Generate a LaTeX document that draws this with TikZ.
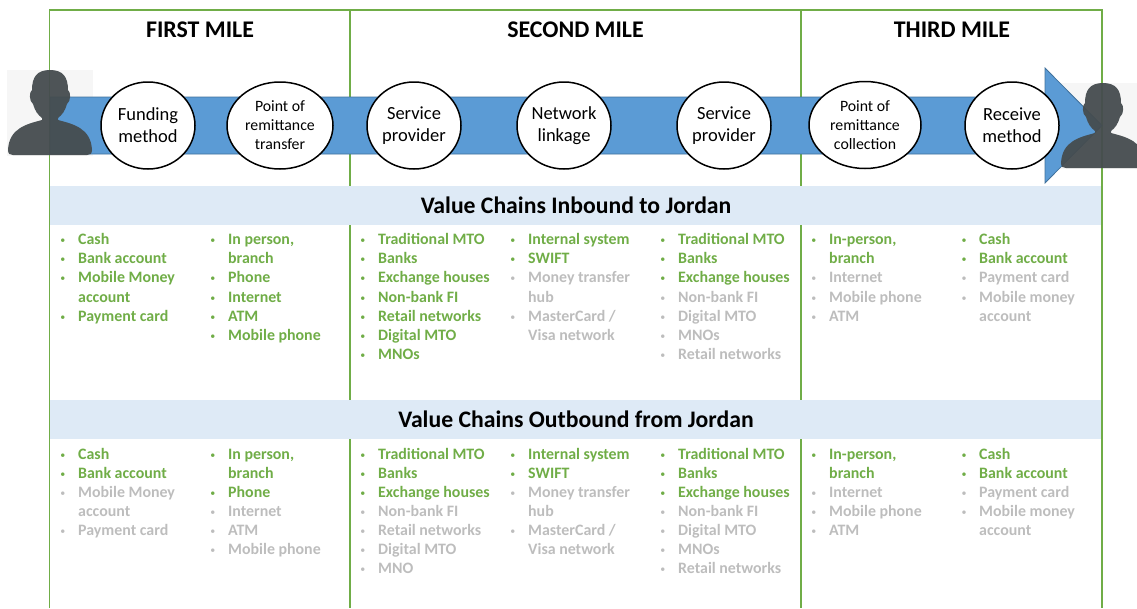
\documentclass[tikz,border=0pt]{standalone}
\usepackage{fontspec}
\usetikzlibrary{shapes.geometric}
\setmainfont{Carlito}
\definecolor{framegreen}{HTML}{70AD47}
\definecolor{itemgrey}{HTML}{BDBDBD}
\definecolor{bandblue}{HTML}{DEEAF6}
\definecolor{arrowblue}{HTML}{5B9BD5}
\definecolor{arrowedge}{HTML}{41719C}
\definecolor{persondark}{HTML}{454C4F}
\definecolor{personback}{HTML}{F6F6F6}
\tikzset{
    milehead/.style={font=\fontsize{23.9}{26}\selectfont\bfseries},
    band/.style={fill=bandblue, minimum width=1052, minimum height=39, inner sep=0, font=\fontsize{23.7}{25}\selectfont\bfseries},
    stage/.style={draw, fill=white, line width=1.5pt, ellipse, inner sep=0, align=center, minimum width=94, minimum height=87, yshift=-0.5, font=\fontsize{18.5}{22}\selectfont},
    stagesmall/.style={stage, minimum width=106, font=\fontsize{15.8}{19}\selectfont},
    itemtext/.style={anchor=west, inner sep=0, yshift=-2, text height=10.5, text depth=3, font=\fontsize{15.9}{18}\selectfont\bfseries},
    go/.style={itemtext, text=framegreen, label={[text=framegreen, label distance=9]left:•}},
    no/.style={itemtext, text=itemgrey, label={[text=itemgrey, label distance=9]left:•}},
    gomore/.style={itemtext, text=framegreen},
    nomore/.style={itemtext, text=itemgrey},
    person/.pic={
        \fill[persondark, opacity=0.95] (43,0) .. controls (30,0) and (25,7) .. (25,20)
            .. controls (22,22) and (22,31) .. (26,34) .. controls (28,41) and (31,45) .. (35,48)
            -- (35,50) .. controls (20,54) and (2,58) .. (1,80) .. controls (1,84) and (3,85) .. (6,85)
            -- (80,85) .. controls (83,85) and (85,84) .. (85,80) .. controls (84,58) and (66,54) .. (51,50)
            -- (51,48) .. controls (55,45) and (58,41) .. (60,34) .. controls (64,31) and (64,22) .. (61,20)
            .. controls (61,7) and (56,0) .. (43,0) -- cycle;
    }
}
\begin{document}
\begin{tikzpicture}[x=1pt, y=-1pt]
    \useasboundingbox (0,0) rectangle (1137,608);
    \begin{scope}
    \clip (0,0) rectangle (1137,608);

    % Backs of the people
    \fill[personback] (7,70) rectangle (93,156);
    \fill[personback] (1060,83) rectangle (1146,169);

    % Mile dividers
    \draw[framegreen, line width=1.2pt] (350,10) -- (350,608);
    \draw[framegreen, line width=1.2pt] (801,10) -- (801,608);

    % Bands
    \node[band] (inbound) at (576,205.5) {Value Chains Inbound to Jordan};
    \node[band] (outbound) at (576,419.5) {Value Chains Outbound from Jordan};

    % Frame
    \draw[framegreen, line width=1.2pt] (49.5,608) -- (49.5,10) -- (1102,10) -- (1102,608);

    % Mile titles
    \node[milehead] (firstmile) at (200,30) {FIRST MILE};
    \node[milehead] (secondmile) at (575.5,30) {SECOND MILE};
    \node[milehead] (thirdmile) at (952,30) {THIRD MILE};

    % Arrow
    \draw[fill=arrowblue, draw=arrowedge, line width=0.8pt] (50,97) -- (1045,97) -- (1045,68) -- (1102,125.5) -- (1045,183) -- (1045,154) -- (50,154) -- cycle;

    % Stages
    \node[stage] (funding) at (148,125) {Funding\\method};
    \node[stagesmall] (transfer) at (280,125) {Point of\\remittance\\transfer};
    \node[stage] (provideri) at (414,125) {Service\\provider};
    \node[stage] (linkage) at (564,125) {Network\\linkage};
    \node[stage] (providerii) at (724,125) {Service\\provider};
    \node[stagesmall, minimum width=112] (collection) at (865,124.5) {Point of\\remittance\\collection};
    \node[stage] (receive) at (1012,125) {Receive\\method};

    % People
    \pic at (7,70) {person};
    \pic at (1060,83) {person};

    % Inbound lists
    \foreach \x/\y/\s/\t in {78/239/go/Cash, 78/258/go/Bank account, 78/277/go/Mobile Money, 78/297/gomore/account, 78/316/go/Payment card,
        228/239/go/{In person,}, 228/258/gomore/branch, 228/277/go/Phone, 228/297/go/Internet, 228/316/go/ATM, 228/335/go/Mobile phone,
        378/239/go/Traditional MTO, 378/258/go/Banks, 378/277/go/Exchange houses, 378/297/go/Non-bank FI, 378/316/go/Retail networks, 378/335/go/Digital MTO, 378/354/go/MNOs,
        528/239/go/Internal system, 528/258/go/SWIFT, 528/277/no/Money transfer, 528/297/nomore/hub, 528/316/no/{MasterCard /}, 528/335/nomore/Visa network,
        678/239/go/Traditional MTO, 678/258/go/Banks, 678/277/go/Exchange houses, 678/297/no/Non-bank FI, 678/316/no/Digital MTO, 678/335/no/MNOs, 678/354/no/Retail networks,
        829/239/go/{In-person,}, 829/258/gomore/branch, 829/277/no/Internet, 829/297/no/Mobile phone, 829/316/no/ATM,
        979/239/go/Cash, 979/258/go/Bank account, 979/277/no/Payment card, 979/297/no/Mobile money, 979/316/nomore/account}
        \node[\s] (in-\x-\y) at (\x,\y) {\t};

    % Outbound lists
    \foreach \x/\y/\s/\t in {78/454/go/Cash, 78/473/go/Bank account, 78/492/no/Mobile Money, 78/511/nomore/account, 78/530/no/Payment card,
        228/454/go/{In person,}, 228/473/gomore/branch, 228/492/go/Phone, 228/511/no/Internet, 228/530/no/ATM, 228/549/no/Mobile phone,
        378/454/go/Traditional MTO, 378/473/go/Banks, 378/492/go/Exchange houses, 378/511/no/Non-bank FI, 378/530/no/Retail networks, 378/549/no/Digital MTO, 378/568/no/MNO,
        528/454/go/Internal system, 528/473/go/SWIFT, 528/492/no/Money transfer, 528/511/nomore/hub, 528/530/no/{MasterCard /}, 528/549/nomore/Visa network,
        678/454/go/Traditional MTO, 678/473/go/Banks, 678/492/go/Exchange houses, 678/511/no/Non-bank FI, 678/530/no/Digital MTO, 678/549/no/MNOs, 678/568/no/Retail networks,
        829/454/go/{In-person,}, 829/473/gomore/branch, 829/492/no/Internet, 829/511/no/Mobile phone, 829/530/no/ATM,
        979/454/go/Cash, 979/473/go/Bank account, 979/492/no/Payment card, 979/511/no/Mobile money, 979/530/nomore/account}
        \node[\s] (out-\x-\y) at (\x,\y) {\t};
    \end{scope}
\end{tikzpicture}
\end{document}
